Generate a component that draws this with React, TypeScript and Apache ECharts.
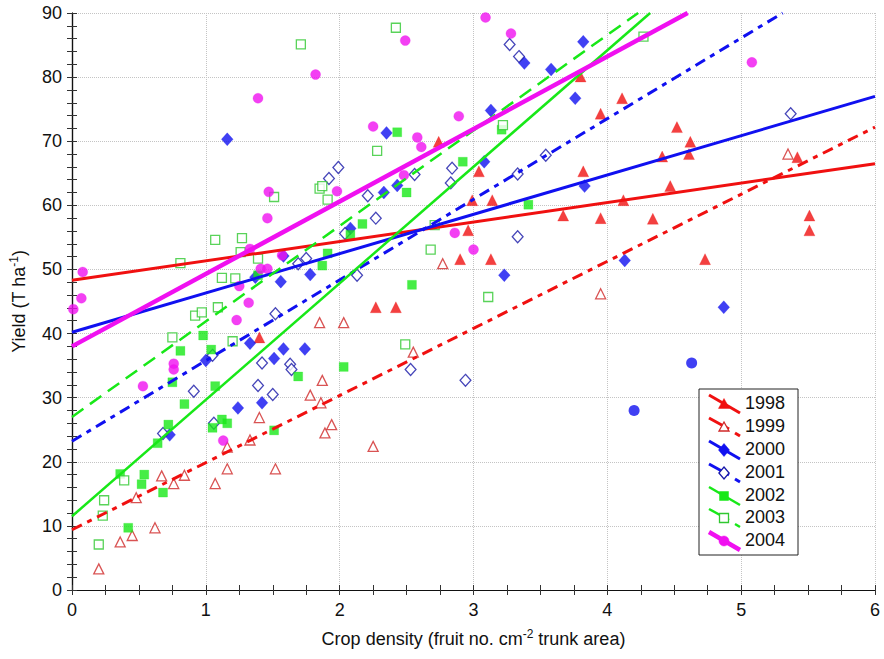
import React, { useEffect, useRef } from "react";
import * as echarts from "echarts";

// ---- Data ----
const xTicks = [0, 1, 2, 3, 4, 5, 6];
const yTicks = [0, 10, 20, 30, 40, 50, 60, 70, 80, 90];

const years = ["1998", "1999", "2000", "2001", "2002", "2003", "2004"];

const pts1998 = [
  [1.40, 39.4], [2.27, 44.1], [2.42, 44.1], [2.74, 69.9], [3.04, 65.3], [3.82, 65.3], [2.99, 60.8],
  [3.14, 60.8], [2.96, 56.1], [2.90, 51.6], [3.13, 51.6], [3.67, 58.4], [3.95, 58.0], [3.80, 80.1],
  [3.95, 74.3], [4.11, 76.7], [4.52, 72.2], [4.62, 69.9], [4.41, 67.6], [4.61, 68.0], [4.47, 63.0],
  [4.12, 60.8], [4.34, 57.9], [4.73, 51.6], [5.42, 67.5], [5.51, 58.4], [5.51, 56.1],
];
const pts1999 = [
  [0.20, 3.3], [0.36, 7.5], [0.45, 8.5], [0.62, 9.7], [0.48, 14.4], [0.67, 17.8], [0.76, 16.6],
  [0.84, 17.9], [1.07, 16.6], [1.16, 18.9], [1.16, 22.3], [1.33, 23.4], [1.40, 26.9], [1.52, 18.9],
  [1.85, 41.7], [2.03, 41.7], [1.87, 32.7], [1.78, 30.4], [1.86, 29.2], [1.94, 25.8], [1.89, 24.5],
  [2.25, 22.4], [2.55, 37.1], [2.77, 50.9], [3.95, 46.2], [5.35, 68.0],
];
const pts2000 = [
  [1.16, 70.3], [1.37, 48.8], [1.56, 48.1], [1.58, 52.1], [1.00, 35.8], [1.24, 28.4], [1.33, 38.5],
  [1.42, 29.2], [1.51, 36.1], [1.58, 37.6], [0.73, 24.2], [1.74, 37.6], [1.78, 49.2], [2.08, 56.4],
  [2.33, 62.0], [2.43, 63.1], [2.35, 71.3], [3.08, 66.8], [3.13, 74.8], [3.23, 49.1], [3.38, 82.2],
  [3.58, 81.2], [3.82, 85.5], [3.76, 76.7], [3.83, 63.0], [4.13, 51.4], [4.87, 44.1],
];
const pts2000Circles = [[4.63, 35.4], [4.20, 28.0]];
const pts2001 = [
  [0.68, 24.4], [0.91, 31.0], [1.06, 26.0], [1.05, 36.6], [1.39, 31.9], [1.42, 35.4], [1.50, 30.5],
  [1.52, 43.1], [1.63, 35.2], [1.64, 34.4], [1.69, 50.9], [1.75, 51.7], [2.13, 49.1], [2.04, 55.6],
  [1.92, 64.2], [1.99, 65.9], [2.21, 61.5], [2.27, 58.0], [2.56, 64.8], [2.84, 65.8], [2.83, 63.5],
  [2.53, 34.4], [2.94, 32.7], [3.33, 64.9], [3.33, 55.1], [3.54, 67.8], [3.27, 85.1], [3.34, 83.2],
  [5.37, 74.3],
];
const pts2002 = [
  [0.42, 9.7], [0.36, 18.1], [0.54, 18.0], [0.52, 16.5], [0.68, 15.2], [0.64, 22.9], [0.72, 25.8],
  [0.75, 32.4], [0.81, 37.3], [0.84, 29.0], [0.98, 39.7], [1.04, 37.5], [1.07, 31.8], [1.05, 25.3],
  [1.12, 26.6], [1.16, 26.0], [1.51, 24.9], [1.69, 33.3], [1.39, 49.1], [1.87, 50.6], [1.91, 52.5],
  [2.03, 34.8], [2.08, 55.4], [2.17, 57.1], [2.43, 71.4], [2.50, 62.0], [2.54, 47.6], [2.92, 66.8],
  [3.21, 71.8], [3.41, 60.1],
];
const pts2003 = [
  [0.20, 7.1], [0.23, 11.6], [0.24, 14.0], [0.39, 17.1], [0.75, 39.4], [0.81, 51.0], [0.92, 42.8],
  [0.97, 43.3], [1.09, 44.1], [1.20, 38.8], [1.07, 54.6], [1.12, 48.7], [1.22, 48.6], [1.26, 52.7],
  [1.27, 54.9], [1.39, 51.7], [1.51, 61.3], [1.71, 85.1], [1.85, 62.6], [1.87, 63.0], [1.91, 60.9],
  [2.28, 68.5], [2.42, 87.7], [2.49, 38.3], [2.68, 53.1], [2.71, 56.9], [3.11, 45.7], [3.22, 72.5],
  [4.27, 86.3],
];
const pts2004 = [
  [0.01, 43.8], [0.07, 45.5], [0.08, 49.6], [0.53, 31.8], [0.76, 35.3], [0.76, 34.4], [1.13, 23.3],
  [1.23, 42.1], [1.25, 47.4], [1.32, 44.8], [1.33, 53.2], [1.39, 76.7], [1.41, 50.1], [1.46, 50.1],
  [1.46, 58.0], [1.47, 62.1], [1.57, 52.2], [1.82, 80.4], [1.98, 62.2], [2.25, 72.3], [2.48, 64.7],
  [2.49, 85.7], [2.58, 70.6], [2.61, 69.1], [2.86, 55.7], [2.89, 73.9], [3.00, 53.1], [3.09, 89.3],
  [3.28, 86.8], [5.08, 82.3],
];

// regression line end points
const fit1998 = [[0, 48.3], [6, 66.5]];
const fit1999 = [[0, 9.4], [6, 72.2]];
const fit2000 = [[0, 40.2], [6, 77.0]];
const fit2001 = [[0, 23.2], [5.31, 90]];
const fit2002 = [[0, 11.5], [4.32, 90]];
const fit2003 = [[0, 27.0], [4.23, 90]];
const fit2004 = [[0, 38.0], [4.6, 90]];

const RED = "#f01010";
const DRED = "#d02828";
const BLUE = "#1010f0";
const NAVY = "#1818a8";
const GREEN = "#18e818";
const LGREEN = "#30c830";
const MAG = "#f010f0";
const DASH = [11, 6, 5, 6];
const FONT = "'Liberation Sans', Arial, sans-serif";

const styles = [
  { pts: pts1998, color: RED, symbol: "triangle", size: 11, open: false, stroke: RED, fit: fit1998, dash: "solid", w: 3 },
  { pts: pts1999, color: RED, symbol: "triangle", size: 10, open: true, stroke: DRED, fit: fit1999, dash: DASH, w: 3 },
  { pts: pts2000, color: BLUE, symbol: "diamond", size: 13, open: false, stroke: BLUE, fit: fit2000, dash: "solid", w: 3 },
  { pts: pts2001, color: BLUE, symbol: "diamond", size: 12, open: true, stroke: NAVY, fit: fit2001, dash: DASH, w: 3 },
  { pts: pts2002, color: GREEN, symbol: "rect", size: 9, open: false, stroke: GREEN, fit: fit2002, dash: "solid", w: 2.5 },
  { pts: pts2003, color: GREEN, symbol: "rect", size: 9, open: true, stroke: LGREEN, fit: fit2003, dash: [14, 8], w: 2.5 },
  { pts: pts2004, color: MAG, symbol: "circle", size: 10, open: false, stroke: MAG, fit: fit2004, dash: "solid", w: 4.5 },
];

function legendGraphics() {
  const x0 = 699, y0 = 389, w = 99, h = 166;
  const els: any[] = [
    { type: "rect", shape: { x: x0, y: y0, width: w, height: h }, style: { fill: "#fff", stroke: "#222", lineWidth: 1 }, z: 100 },
  ];
  const rowCenters = [403, 426, 449, 472, 495, 517, 540];
  years.forEach((yr, i) => {
    const s = styles[i];
    const c = rowCenters[i];
    const isDash = Array.isArray(s.dash);
    if (isDash) {
      els.push({ type: "line", shape: { x1: 709, y1: c - 8, x2: 729, y2: c + 3 }, style: { stroke: s.color, lineWidth: s.w }, z: 101 });
      els.push({ type: "line", shape: { x1: 735, y1: c + 7, x2: 740, y2: c + 10 }, style: { stroke: s.color, lineWidth: s.w }, z: 101 });
    } else {
      els.push({ type: "line", shape: { x1: 709, y1: c - 8, x2: 740, y2: c + 10 }, style: { stroke: s.color, lineWidth: s.w }, z: 101 });
    }
    const mx = 724, my = c + 1;
    const fill = s.open ? "#fff" : s.color;
    const st = { fill, stroke: s.stroke, lineWidth: s.open ? 1.3 : 0.5 };
    const r = s.size / 2;
    if (s.symbol === "triangle") {
      els.push({ type: "polygon", shape: { points: [[mx, my - r], [mx + r, my + r * 0.8], [mx - r, my + r * 0.8]] }, style: st, z: 102 });
    } else if (s.symbol === "diamond") {
      els.push({ type: "polygon", shape: { points: [[mx, my - r], [mx + r * 0.85, my], [mx, my + r], [mx - r * 0.85, my]] }, style: st, z: 102 });
    } else if (s.symbol === "rect") {
      els.push({ type: "rect", shape: { x: mx - r, y: my - r, width: 2 * r, height: 2 * r }, style: st, z: 102 });
    } else {
      els.push({ type: "circle", shape: { cx: mx, cy: my, r }, style: st, z: 102 });
    }
    els.push({
      type: "text", x: 745, y: c, z: 103,
      style: { text: yr, fill: "#111", font: `18px ${FONT}`, verticalAlign: "middle", align: "left" },
    });
  });
  return els;
}

export default function App() {
  const ref = useRef<HTMLDivElement>(null);
  useEffect(() => {
    document.body.style.margin = "0";
    if (!ref.current) return;
    const chart = echarts.init(ref.current, null, { renderer: "svg" });

    const axisCommon = {
      axisLine: { show: true, lineStyle: { color: "#111", width: 1.2 } },
      axisTick: { show: true, inside: true, length: 5, lineStyle: { color: "#333" } },
      minorTick: { show: true, length: 5, lineStyle: { color: "#333" } },
    };

    const scatterSeries: any[] = styles.map((s, i) => ({
      type: "scatter",
      name: years[i],
      data: s.pts,
      symbol: s.symbol,
      symbolSize: s.symbol === "diamond" ? [s.size * 0.9, s.size] : s.size,
      itemStyle: s.open
        ? { color: "#fff", borderColor: s.stroke, borderWidth: 1.3 }
        : { color: s.color, borderColor: s.color, borderWidth: 0.3 },
      z: 2,
    }));
    scatterSeries.push({
      type: "scatter",
      name: "2000 circles",
      data: pts2000Circles,
      symbol: "circle",
      symbolSize: 11,
      itemStyle: { color: BLUE },
      z: 2,
    });

    const lineSeries: any[] = styles.map((s, i) => ({
      type: "line",
      name: years[i] + " fit",
      data: s.fit,
      symbol: "none",
      lineStyle: { color: s.color, width: s.w, type: s.dash },
      z: 3,
    }));

    chart.setOption({
      animation: false,
      backgroundColor: "#fff",
      grid: { left: 69, right: 9, top: 13, bottom: 69, containLabel: false },
      xAxis: [
        {
          type: "value", min: 0, max: 6, interval: 1, position: "bottom",
          ...axisCommon,
          minorTick: { ...axisCommon.minorTick, splitNumber: 4 },
          splitLine: { show: true, lineStyle: { color: "#c4c4c4", type: "dotted", width: 1 } },
          axisLabel: { color: "#111", fontSize: 18, fontFamily: FONT, margin: 11 },
          name: "{a|Crop density (fruit no. cm}{s|-2}{a| trunk area)}",
          nameLocation: "middle",
          nameGap: 38,
          nameTextStyle: {
            rich: {
              a: { fontSize: 18, fontFamily: FONT, color: "#111", lineHeight: 21 },
              s: { fontSize: 12, fontFamily: FONT, color: "#111", verticalAlign: "top", lineHeight: 12 },
            },
          },
        },
        {
          type: "value", min: 0, max: 6, interval: 1, position: "top",
          ...axisCommon,
          minorTick: { ...axisCommon.minorTick, splitNumber: 4 },
          splitLine: { show: false },
          axisLabel: { show: false },
        },
      ],
      yAxis: [
        {
          type: "value", min: 0, max: 90, interval: 10, position: "left",
          ...axisCommon,
          minorTick: { ...axisCommon.minorTick, splitNumber: 5 },
          splitLine: { show: true, lineStyle: { color: "#c4c4c4", type: "dotted", width: 1 } },
          axisLabel: { color: "#111", fontSize: 18, fontFamily: FONT, margin: 10 },
          name: "{a|Yield (T ha}{s|-1}{a|)}",
          nameLocation: "middle",
          nameGap: 43,
          nameRotate: 90,
          nameTextStyle: {
            rich: {
              a: { fontSize: 18, fontFamily: FONT, color: "#111", lineHeight: 21 },
              s: { fontSize: 12, fontFamily: FONT, color: "#111", verticalAlign: "top", lineHeight: 12 },
            },
          },
        },
        {
          type: "value", min: 0, max: 90, interval: 10, position: "right",
          ...axisCommon,
          minorTick: { ...axisCommon.minorTick, splitNumber: 5 },
          splitLine: { show: false },
          axisLabel: { show: false },
        },
      ],
      series: [...scatterSeries, ...lineSeries],
      graphic: legendGraphics(),
    });
    return () => chart.dispose();
  }, []);
  return <div ref={ref} style={{ width: 884, height: 659 }} />;
}
